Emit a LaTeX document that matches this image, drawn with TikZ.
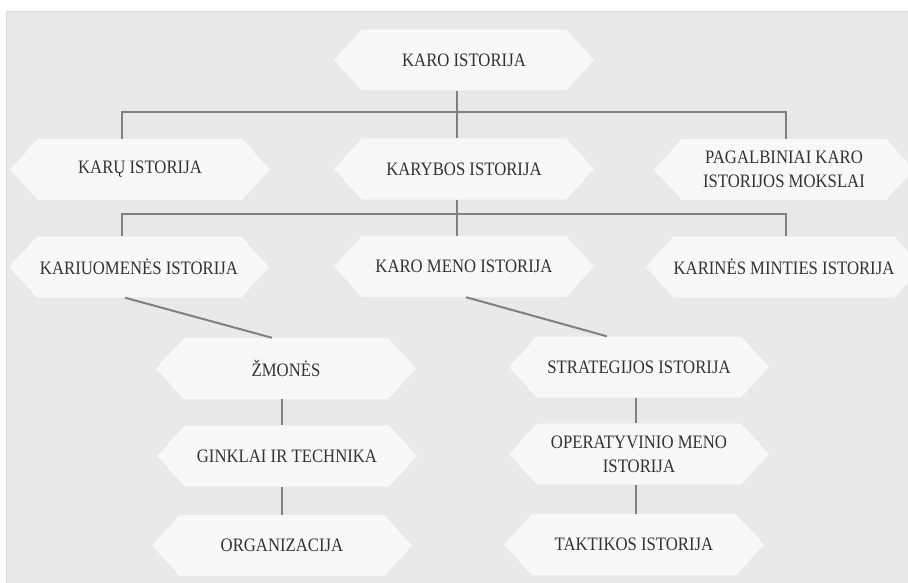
\documentclass[tikz,border=0pt]{standalone}
\usepackage{fontspec}
\setmainfont{Liberation Serif}[FakeStretch=0.88]
\usetikzlibrary{shapes.symbols}
\definecolor{bggray}{HTML}{E8E9EB}
\definecolor{bgedge}{HTML}{D9DADC}
\definecolor{hexfill}{HTML}{F8F8F8}
\definecolor{linegray}{HTML}{808080}
\definecolor{txtgray}{HTML}{333333}
\begin{document}
\begin{tikzpicture}[x=1pt,y=-1pt,
        hexbox/.style={signal, signal to=west and east, signal pointer angle=95,
            fill=hexfill, minimum width=260pt, minimum height=61pt, inner sep=0pt,
            text=txtgray, font=\fontsize{19}{24}\selectfont, align=center},
        link/.style={draw=linegray, line width=2pt}]
            \useasboundingbox (0,0) rectangle (908,583);
            \fill [bggray, draw=bgedge, line width=1pt] (6,12) rectangle (914,590);
            % levels
            \node [hexbox] (karo) at (464,60) {KARO ISTORIJA};
            \node [hexbox] (karu) at (140,169.5) {KARŲ ISTORIJA};
            \node [hexbox] (karybos) at (464,169) {KARYBOS ISTORIJA};
            \node [hexbox] (pagalbiniai) at (784,169.5) {PAGALBINIAI KARO\\ISTORIJOS MOKSLAI};
            \node [hexbox] (kariuomenes) at (139,267) {KARIUOMENĖS ISTORIJA};
            \node [hexbox] (karomeno) at (464,266.5) {KARO MENO ISTORIJA};
            \node [hexbox] (karines) at (784,267) {KARINĖS MINTIES ISTORIJA};
            \node [hexbox] (zmones) at (286,368.5) {ŽMONĖS};
            \node [hexbox] (ginklai) at (287,456) {GINKLAI IR TECHNIKA};
            \node [hexbox] (organizacija) at (282,545.5) {ORGANIZACIJA};
            \node [hexbox] (strategijos) at (639,367) {STRATEGIJOS ISTORIJA};
            \node [hexbox] (operatyvinio) at (639,454) {OPERATYVINIO MENO\\ISTORIJA};
            \node [hexbox] (taktikos) at (634,544.5) {TAKTIKOS ISTORIJA};
            % forks
            \coordinate (forkA) at (457,112);
            \coordinate (forkB) at (457,214);
            \draw [link] ([xshift=-7]karo.south) -- ([xshift=-7]karybos.north);
            \draw [link] ([xshift=-18]karu.north) |- (forkA) -| ([xshift=2]pagalbiniai.north);
            \draw [link] ([xshift=-7]karybos.south) -- ([xshift=-7]karomeno.north);
            \draw [link] ([xshift=-17]kariuomenes.north) |- (forkB) -| ([xshift=2]karines.north);
            \draw [link] ([xshift=-14]kariuomenes.south) -- ([xshift=-14]zmones.north);
            \draw [link] ([xshift=2]karomeno.south) -- ([xshift=-32]strategijos.north);
            \draw [link] ([xshift=-4]zmones.south) -- ([xshift=-5]ginklai.north);
            \draw [link] ([xshift=-5]ginklai.south) -- (organizacija.north);
            \draw [link] ([xshift=-3]strategijos.south) -- ([xshift=-3]operatyvinio.north);
            \draw [link] ([xshift=-3]operatyvinio.south) -- ([xshift=2]taktikos.north);
\end{tikzpicture}
\end{document}
